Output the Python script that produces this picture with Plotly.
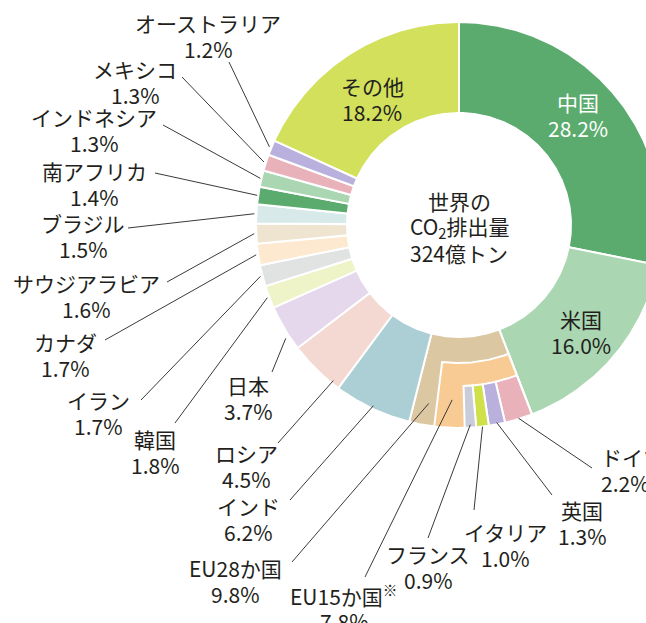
import numpy as np
import plotly.graph_objects as go

# ---------------- data ----------------
countries = ["中国", "米国", "EU28か国", "インド", "ロシア", "日本", "韓国", "イラン", "カナダ",
             "サウジアラビア", "ブラジル", "南アフリカ", "インドネシア", "メキシコ", "オーストラリア", "その他"]
shares = [28.2, 16.0, 9.8, 6.2, 4.5, 3.7, 1.8, 1.7, 1.7, 1.6, 1.5, 1.4, 1.3, 1.3, 1.2, 18.2]
eu15_name = "EU15か国<sup>※</sup>"
eu15_share = 7.8
eu_members = ["ドイツ", "英国", "イタリア", "フランス"]
eu_member_shares = [2.2, 1.3, 1.0, 0.9]
center_text = ["世界の", "CO<sub>2</sub>排出量", "324億トン"]

# ---------------- styles ----------------
colors = ["#5aab6d", "#aad6b2", "#dcc7a3", "#abcfd4", "#f4d9d2", "#e5d8ec", "#eef4c8", "#e1e3e3",
          "#fde8d0", "#efe4d0", "#d8e9ea", "#5aab6d", "#aad6b2", "#e9b2bb", "#b9b0de", "#d3e05b"]
eu15_color = "#f7cb93"
member_colors = ["#e9b2bb", "#b9b0de", "#cfe04a", "#c9cdd9"]
TXT = "#231f20"
FONT = "Noto Sans CJK JP"
FS = 21
LSP = 26  # line spacing of two-line labels

CX, CY = 459, 225
R_IN, R_OUT = 112, 203
R_EU15, R_MEM = 138, 161

total = sum(shares)


def ang(p):
    return p / total * 360.0


def pt(t, r):
    tr = np.radians(t)
    return CX + r * np.sin(tr), CY - r * np.cos(tr)


def wedge(t0, t1, r0, r1):
    n = max(int(abs(t1 - t0) * 2) + 2, 4)
    t = np.linspace(t0, t1, n)
    xo, yo = pt(t, r1)
    xi, yi = pt(t[::-1], r0)
    x = np.concatenate([xo, xi, xo[:1]])
    y = np.concatenate([yo, yi, yo[:1]])
    return x, y


fig = go.Figure()
cum = np.concatenate([[0], np.cumsum(shares)])
spans = {}
for i, (name, s) in enumerate(zip(countries, shares)):
    t0, t1 = ang(cum[i]), ang(cum[i + 1])
    spans[name] = (t0, t1)
    x, y = wedge(t0, t1, R_IN, R_OUT)
    fig.add_trace(go.Scatter(x=x, y=y, mode="lines", fill="toself", fillcolor=colors[i],
                             line=dict(color="white", width=2), hoveron="fills",
                             hoverinfo="text", text=f"{name} {s}%"))

eu_t0 = spans["EU28か国"][0]
t0, t1 = eu_t0, eu_t0 + ang(eu15_share)
spans[eu15_name] = (t0, t1)
x, y = wedge(t0, t1, R_EU15, R_OUT)
fig.add_trace(go.Scatter(x=x, y=y, mode="lines", fill="toself", fillcolor=eu15_color,
                         line=dict(color="white", width=2), hoveron="fills",
                         hoverinfo="text", text=f"EU15か国 {eu15_share}%"))
mc = np.concatenate([[0], np.cumsum(eu_member_shares)])
for i, (name, s) in enumerate(zip(eu_members, eu_member_shares)):
    t0, t1 = eu_t0 + ang(mc[i]), eu_t0 + ang(mc[i + 1])
    spans[name] = (t0, t1)
    x, y = wedge(t0, t1, R_MEM, R_OUT)
    fig.add_trace(go.Scatter(x=x, y=y, mode="lines", fill="toself", fillcolor=member_colors[i],
                             line=dict(color="white", width=2), hoveron="fills",
                             hoverinfo="text", text=f"{name} {s}%"))

all_shares = dict(zip(countries, shares))
all_shares[eu15_name] = eu15_share
all_shares.update(dict(zip(eu_members, eu_member_shares)))

# label layout: name -> (text x, block centre y, line start x, line start y, end radius, fraction in slice, xanchor)
label_layout = {
    "オーストラリア": (208, 36, 229, 62, 205, 0.5, "center"),
    "メキシコ": (135, 81.5, 182, 77, 205, 0.5, "center"),
    "インドネシア": (94, 130, 163, 125, 204, 0.5, "center"),
    "南アフリカ": (94, 183.5, 155, 173, 204, 0.5, "center"),
    "ブラジル": (83, 236, 128, 228, 205, 0.5, "center"),
    "サウジアラビア": (86, 296, 167, 282, 205, 0.5, "center"),
    "カナダ": (65, 354.5, 105, 340, 205, 0.5, "center"),
    "イラン": (98, 412.5, 141, 400, 205, 0.5, "center"),
    "韓国": (155, 451.5, 175, 423, 205, 0.5, "center"),
    "日本": (248, 397.5, 272, 372, 207, 0.31, "center"),
    "ロシア": (246, 465.5, 278, 443, 200, 0.15, "center"),
    "インド": (248, 518.5, 290, 500, 200, 0.5, "center"),
    "EU28か国": (235, 580.5, 292, 562, 181, 0.87, "center"),
    eu15_name: (344, 607.5, 365, 577, 175, 0.83, "center"),
    "フランス": (428, 566.5, 428, 538, 200, 0.5, "center"),
    "イタリア": (505, 544.5, 474, 510, 203, 0.5, "center"),
    "英国": (582, 522.5, 552, 495, 201, 0.5, "center"),
    "ドイツ": (599, 470, 592, 468, 202, 0.5, "left"),
}
inside_layout = {
    "中国": (578, 115, "white"),
    "米国": (581, 331.5, TXT),
    "その他": (372, 98.5, TXT),
}

annotations = []


def two_line(tx, ty, top, bottom, xa, col):
    for k, txt in enumerate([top, bottom]):
        annotations.append(dict(x=tx, y=ty + (k - 0.5) * LSP, xref="x", yref="y", text=txt,
                                showarrow=False, xanchor=xa, yanchor="middle",
                                font=dict(family=FONT, size=FS, color=col)))


lx, ly = [], []
for name, (tx, ty, sx, sy, r_end, frac, xa) in label_layout.items():
    t0, t1 = spans[name]
    ex, ey = pt(t0 + frac * (t1 - t0), r_end)
    lx += [sx, ex, None]
    ly += [sy, ey, None]
    two_line(tx, ty, name, f"{all_shares[name]:.1f}%", xa, TXT)
for name, (tx, ty, col) in inside_layout.items():
    two_line(tx, ty, name, f"{all_shares[name]:.1f}%", "center", col)
for k, txt in enumerate(center_text):
    annotations.append(dict(x=CX, y=CY + 2 + (k - 1) * LSP, xref="x", yref="y", text=txt,
                            showarrow=False, xanchor="center", yanchor="middle",
                            font=dict(family=FONT, size=FS, color=TXT)))

fig.add_trace(go.Scatter(x=lx, y=ly, mode="lines", line=dict(color="#3a3a3a", width=1),
                         hoverinfo="skip"))

fig.update_layout(
    width=646, height=623, margin=dict(l=0, r=0, t=0, b=0),
    paper_bgcolor="white", plot_bgcolor="white", showlegend=False,
    xaxis=dict(range=[0, 646], visible=False, fixedrange=True),
    yaxis=dict(range=[623, 0], visible=False, fixedrange=True),
    annotations=annotations,
)
fig.write_html("out.html", config={"displayModeBar": False},
               post_script="document.body.style.margin='0';document.body.style.overflow='hidden';")
